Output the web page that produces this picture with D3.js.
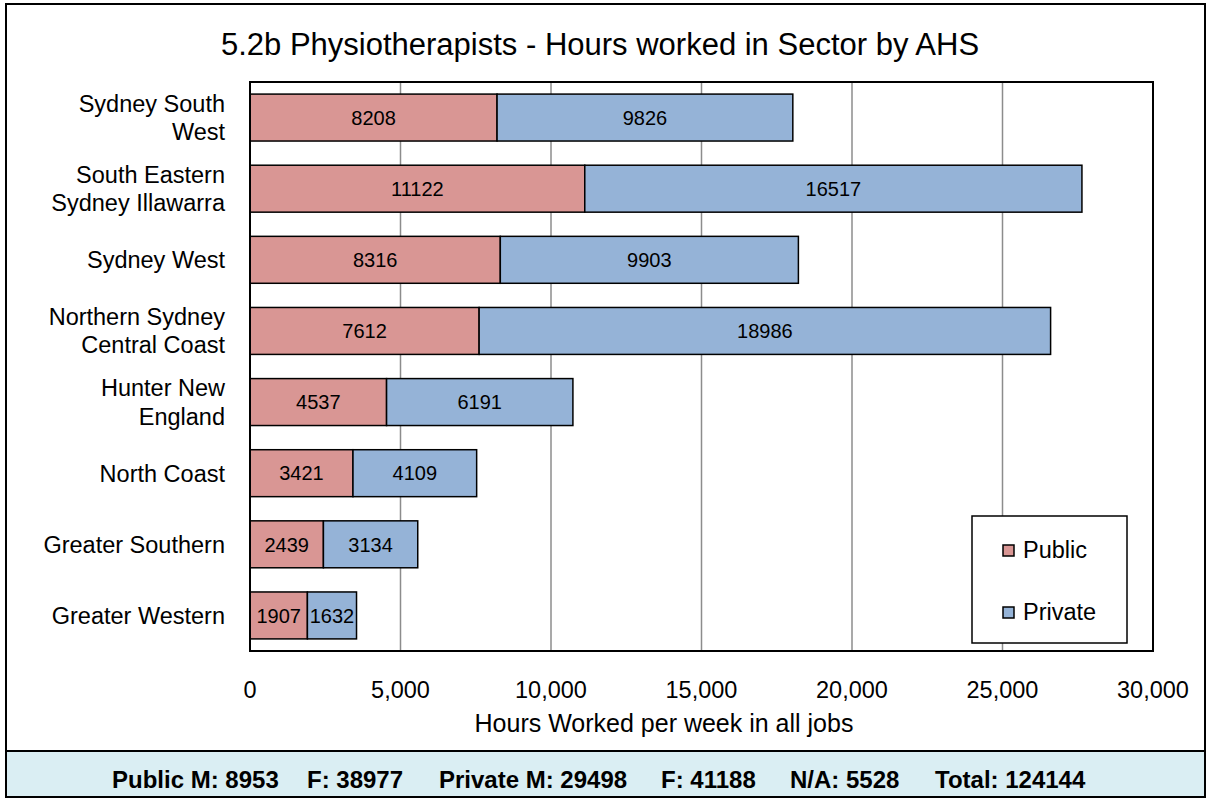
<!DOCTYPE html>
<meta charset="utf-8">
<head>
<style>
  body { margin: 0; background: #fff; }
  svg text { font-family: "Liberation Sans", Arial, sans-serif; fill: #000; }
</style>
</head>
<body>
<div id="chart"></div>
<script src="https://d3js.org/d3.v7.min.js"></script>
<script>
// data
var regions = [
  ["Sydney South", "West"],
  ["South Eastern", "Sydney Illawarra"],
  ["Sydney West"],
  ["Northern Sydney", "Central Coast"],
  ["Hunter New", "England"],
  ["North Coast"],
  ["Greater Southern"],
  ["Greater Western"]
];
var publicHours  = [8208, 11122, 8316, 7612, 4537, 3421, 2439, 1907];
var privateHours = [9826, 16517, 9903, 18986, 6191, 4109, 3134, 1632];
var seriesNames = ["Public", "Private"];
var seriesColors = ["#D99694", "#95B3D7"];
var xTicks = [0, 5000, 10000, 15000, 20000, 25000, 30000];
var footerParts = ["Public M: 8953", "F: 38977", "Private M: 29498", "F: 41188", "N/A: 5528", "Total: 124144"];

var width = 1208, height = 802;
var plot = { left: 250, right: 1153, top: 82, bottom: 651 };
var footerX = [112, 307, 439, 661, 790, 935];

var svg = d3.select("#chart").append("svg")
    .attr("width", width)
    .attr("height", height);

// outer frame + footer band
svg.append("rect")
   .attr("x", 6).attr("y", 751).attr("width", 1199).attr("height", 46)
   .attr("fill", "#DAEEF3");
svg.append("rect")
   .attr("x", 6).attr("y", 4).attr("width", 1199).attr("height", 793)
   .attr("fill", "none").attr("stroke", "#000").attr("stroke-width", 2);
svg.append("line")
   .attr("x1", 6).attr("x2", 1205).attr("y1", 751).attr("y2", 751)
   .attr("stroke", "#000").attr("stroke-width", 2);

svg.append("text")
   .attr("x", 600).attr("y", 55)
   .attr("text-anchor", "middle")
   .style("font-size", "31px")
   .text("5.2b Physiotherapists - Hours worked in Sector by AHS");

var x = d3.scaleLinear().domain([0, 30000]).range([plot.left, plot.right]);
var y = d3.scaleBand()
    .domain(d3.range(regions.length))
    .range([plot.top, plot.bottom])
    .paddingInner(0.34)
    .paddingOuter(0.17);

// grid
svg.append("g")
   .selectAll("line")
   .data(xTicks.slice(1, -1))
   .join("line")
   .attr("x1", d => x(d)).attr("x2", d => x(d))
   .attr("y1", plot.top).attr("y2", plot.bottom)
   .attr("stroke", "#8c8c8c")
   .attr("stroke-width", 1.5);

// stacked bars
var rows = regions.map((r, i) => ({ i: i, pub: publicHours[i], priv: privateHours[i] }));
var stack = d3.stack().keys(["pub", "priv"])(rows);

var layer = svg.append("g")
   .selectAll("g")
   .data(stack)
   .join("g")
   .attr("fill", (d, k) => seriesColors[k]);

layer.selectAll("rect")
   .data(d => d)
   .join("rect")
   .attr("x", d => x(d[0]))
   .attr("width", d => x(d[1]) - x(d[0]))
   .attr("y", d => y(d.data.i))
   .attr("height", y.bandwidth())
   .attr("stroke", "#000")
   .attr("stroke-width", 1.5);

layer.selectAll("text")
   .data(d => d)
   .join("text")
   .attr("x", d => (x(d[0]) + x(d[1])) / 2)
   .attr("y", d => y(d.data.i) + y.bandwidth() / 2)
   .attr("dy", "0.36em")
   .attr("text-anchor", "middle")
   .style("font-size", "20px")
   .text(d => d[1] - d[0]);

// plot frame
svg.append("rect")
   .attr("x", plot.left).attr("y", plot.top)
   .attr("width", plot.right - plot.left).attr("height", plot.bottom - plot.top)
   .attr("fill", "none").attr("stroke", "#000").attr("stroke-width", 2);

// category labels
var cat = svg.append("g")
   .selectAll("text")
   .data(regions)
   .join("text")
   .attr("text-anchor", "end")
   .attr("x", 225)
   .attr("y", (d, i) => y(i) + y.bandwidth() / 2)
   .style("font-size", "23.5px");
cat.selectAll("tspan")
   .data(d => d.map((t, j) => ({ t: t, j: j, n: d.length })))
   .join("tspan")
   .attr("x", 225)
   .attr("dy", d => d.j === 0 ? (0.36 - (d.n - 1) * 0.6) + "em" : "1.2em")
   .text(d => d.t);

// x axis tick labels
var fmt = d3.format(",");
svg.append("g")
   .selectAll("text")
   .data(xTicks)
   .join("text")
   .attr("x", d => x(d))
   .attr("y", 690)
   .attr("dy", "0.36em")
   .attr("text-anchor", "middle")
   .style("font-size", "23.5px")
   .text(d => fmt(d));

svg.append("text")
   .attr("x", 664)
   .attr("y", 723)
   .attr("dy", "0.36em")
   .attr("text-anchor", "middle")
   .style("font-size", "25px")
   .text("Hours Worked per week in all jobs");

// legend
var legend = svg.append("g");
legend.append("rect")
   .attr("x", 972).attr("y", 516).attr("width", 155).attr("height", 127)
   .attr("fill", "#fff").attr("stroke", "#000").attr("stroke-width", 1.5);
var li = legend.selectAll("g.item")
   .data(seriesNames)
   .join("g")
   .attr("class", "item")
   .attr("transform", (d, i) => `translate(1003, ${550 + i * 62})`);
li.append("rect")
   .attr("x", 0).attr("y", -5).attr("width", 11).attr("height", 11)
   .attr("fill", (d, i) => seriesColors[i])
   .attr("stroke", "#000").attr("stroke-width", 1.5);
li.append("text")
   .attr("x", 20).attr("dy", "0.36em")
   .style("font-size", "23.5px")
   .text(d => d);

// footer
svg.append("g")
   .selectAll("text")
   .data(footerParts)
   .join("text")
   .attr("x", (d, i) => footerX[i])
   .attr("y", 779)
   .attr("dy", "0.36em")
   .style("font-size", "24px")
   .style("font-weight", "bold")
   .text(d => d);
</script>
</body>
